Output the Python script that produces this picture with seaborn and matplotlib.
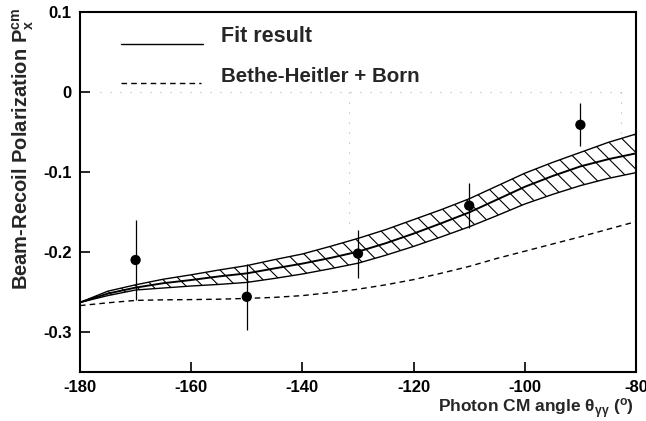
import numpy as np
import pandas as pd
import matplotlib
matplotlib.use('Agg')
import matplotlib.pyplot as plt
import seaborn as sns

angles = [-180, -175, -170, -165, -160, -155, -150, -145, -140, -135, -130,
          -125, -120, -115, -110, -105, -100, -95, -90, -85, -80]

# fit result with its error band
fit_center = [-0.263, -0.252, -0.2445, -0.239, -0.235, -0.2305, -0.2267, -0.2205,
              -0.2145, -0.2075, -0.1996, -0.189, -0.177, -0.164, -0.1505, -0.1345,
              -0.1185, -0.105, -0.093, -0.084, -0.0767]
fit_upper = [-0.263, -0.249, -0.241, -0.234, -0.2285, -0.2225, -0.217, -0.2095,
             -0.2025, -0.193, -0.183, -0.172, -0.1595, -0.147, -0.1335, -0.1175,
             -0.1015, -0.088, -0.0755, -0.063, -0.0525]
fit_lower = [-0.263, -0.2545, -0.2475, -0.245, -0.2425, -0.2405, -0.238, -0.233,
             -0.2275, -0.221, -0.214, -0.204, -0.193, -0.181, -0.1685, -0.1545,
             -0.140, -0.128, -0.117, -0.108, -0.1008]

# Bethe-Heitler + Born prediction
bh_born = [-0.267, -0.2635, -0.2605, -0.2598, -0.2595, -0.259, -0.258, -0.2567,
           -0.2545, -0.2508, -0.2465, -0.241, -0.2345, -0.2265, -0.218, -0.208,
           -0.199, -0.190, -0.181, -0.1715, -0.162]

# measured points
data_x = [-170, -150, -130, -110, -90]
data_y = [-0.210, -0.256, -0.202, -0.142, -0.041]
data_err = [0.050, 0.041, 0.030, 0.028, 0.027]

# faint dotted guide lines seen in the original
guide_h_x = [-176.4, -82.7]
guide_h_y = [0.0, 0.0]
guide_v1_x = [-131.6, -131.6]
guide_v1_y = [0.0, -0.175]
guide_v2_x = [-82.7, -82.7]
guide_v2_y = [0.0, -0.051]

x_ticks = [-180, -160, -140, -120, -100, -80]
x_ticklabels = ['-180', '-160', '-140', '-120', '-100', '-80']
y_ticks = [-0.3, -0.2, -0.1, 0.0, 0.1]
y_ticklabels = ['-0.3', '-0.2', '-0.1', '0', '0.1']

sns.set_theme(style='ticks')
plt.rcParams['font.family'] = ['Liberation Sans', 'DejaVu Sans']
plt.rcParams['mathtext.fontset'] = 'custom'
plt.rcParams['mathtext.rm'] = 'Liberation Sans'
plt.rcParams['mathtext.it'] = 'Liberation Sans:italic'
plt.rcParams['mathtext.bf'] = 'Liberation Sans:bold'
plt.rcParams['axes.unicode_minus'] = False
plt.rcParams['hatch.linewidth'] = 0.8

curves = pd.DataFrame({'angle': angles, 'center': fit_center, 'upper': fit_upper,
                       'lower': fit_lower, 'bh': bh_born})
points = pd.DataFrame({'angle': data_x, 'pol': data_y, 'err': data_err})

fig = plt.figure(figsize=(6.46, 4.21), dpi=100)
ax = fig.add_axes([80 / 646, 1 - 372 / 421, 556 / 646, 360 / 421])

# guide lines
for gx, gy in [(guide_h_x, guide_h_y), (guide_v1_x, guide_v1_y), (guide_v2_x, guide_v2_y)]:
    ax.plot(gx, gy, color='#b0b0b0', linewidth=0.8, linestyle=(0, (1, 8)))

# hatched error band
ax.fill_between(curves['angle'], curves['lower'], curves['upper'], facecolor='none',
                edgecolor='black', hatch='\\\\', linewidth=0, zorder=1)
sns.lineplot(data=curves, x='angle', y='upper', color='black', linewidth=1.0,
             zorder=3, ax=ax)
sns.lineplot(data=curves, x='angle', y='lower', color='black', linewidth=1.0,
             zorder=3, ax=ax)
sns.lineplot(data=curves, x='angle', y='center', color='black', linewidth=1.4,
             zorder=4, ax=ax)
sns.lineplot(data=curves, x='angle', y='bh', color='black', linewidth=1.0,
             linestyle=(0, (4, 3)), zorder=3, ax=ax)

# data points
ax.errorbar(points['angle'], points['pol'], yerr=points['err'], fmt='none',
            ecolor='black', elinewidth=0.9, capsize=0, zorder=5)
sns.scatterplot(data=points, x='angle', y='pol', color='black', s=55,
                edgecolor='none', ax=ax, zorder=6)

ax.set_xlim(-180, -80)
ax.set_ylim(-0.35, 0.1)
ax.set_xticks(x_ticks)
ax.set_xticklabels(x_ticklabels, fontweight='bold')
ax.set_yticks(y_ticks)
ax.set_yticklabels(y_ticklabels, fontweight='bold')
ax.minorticks_off()
ax.tick_params(direction='in', length=7, width=1.2, labelsize=12, pad=6, colors='black')
for sp in ax.spines.values():
    sp.set_linewidth(1.5)
    sp.set_color('black')

ax.set_xlabel(r'Photon CM angle $\mathregular{\theta_{\gamma\gamma}}$ ($\mathregular{^{o}}$)',
              fontsize=12.5, fontweight='bold')
ax.xaxis.set_label_coords(554 / 556, -24 / 360)
ax.xaxis.label.set_horizontalalignment('right')
ax.set_ylabel(r'Beam-Recoil Polarization $\mathbf{P_{x}^{cm}}$', fontsize=14.5,
              fontweight='bold')
ax.yaxis.set_label_coords(-44 / 556, 1 - 137 / 360)

# legend drawn by hand, as in the original
ax.plot([0.073, 0.222], [0.911, 0.911], color='black', linewidth=1.0,
        transform=ax.transAxes)
ax.plot([0.073, 0.217], [0.803, 0.803], color='black', linewidth=1.0,
        linestyle=(0, (4, 3)), transform=ax.transAxes)
ax.text(0.253, 0.931, 'Fit result', transform=ax.transAxes, fontsize=15.5,
        fontweight='bold', va='center', ha='left')
ax.text(0.253, 0.822, 'Bethe-Heitler + Born', transform=ax.transAxes, fontsize=14.8,
        fontweight='bold', va='center', ha='left')

fig.savefig('out.png', dpi=100)
